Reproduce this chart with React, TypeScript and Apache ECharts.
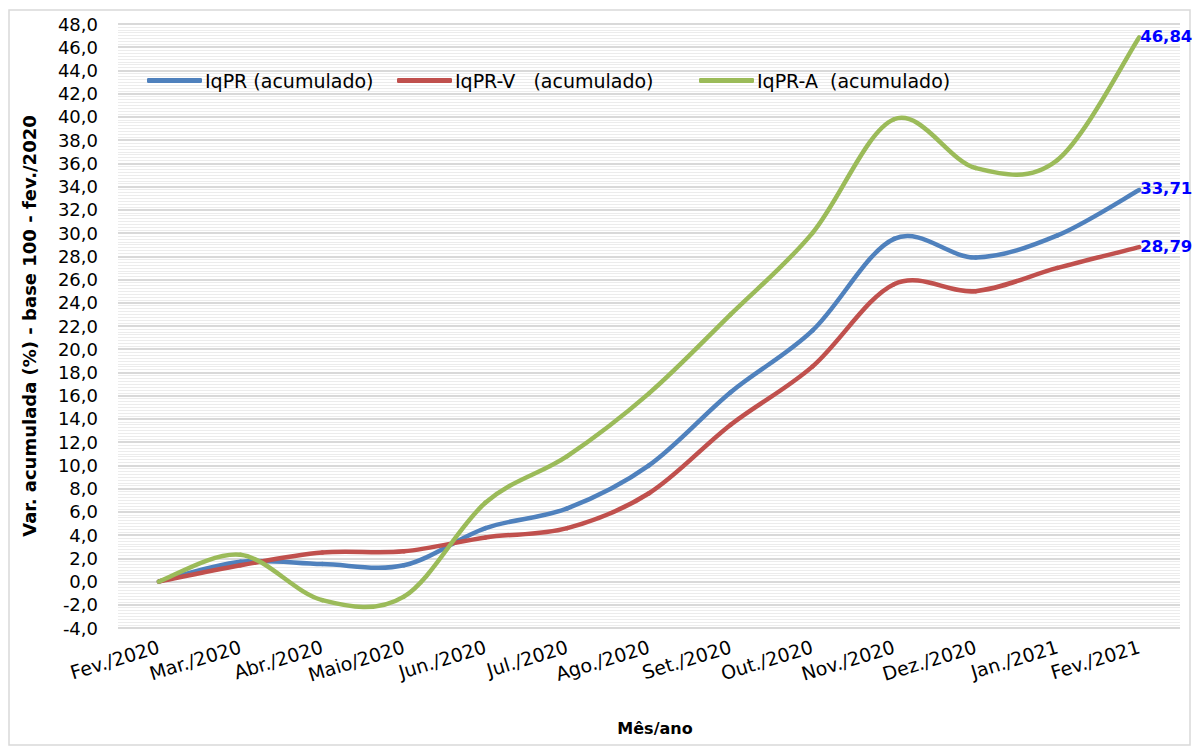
import React, { useEffect, useRef } from "react";
import * as echarts from "echarts";

const categories = [
  "Fev./2020", "Mar./2020", "Abr./2020", "Maio/2020", "Jun./2020", "Jul./2020",
  "Ago./2020", "Set./2020", "Out./2020", "Nov./2020", "Dez./2020", "Jan./2021", "Fev./2021",
];
const iqpr = [0, 1.7, 1.5, 1.4, 4.6, 6.3, 10.0, 16.3, 21.6, 29.5, 27.9, 29.8, 33.71];
const iqprV = [0, 1.4, 2.5, 2.6, 3.8, 4.6, 7.6, 13.5, 18.5, 25.6, 25.0, 27.0, 28.79];
const iqprA = [0, 2.3, -1.6, -1.3, 6.8, 10.8, 16.2, 23.0, 30.0, 39.8, 35.6, 36.3, 46.84];
const seriesNames = ["IqPR (acumulado)", "IqPR-V  (acumulado)", "IqPR-A  (acumulado)"];
const colors = ["#4f81bd", "#c0504d", "#9bbb59"];
const yTicks = { min: -4, max: 48, step: 2 };

const FONT = "DejaVu Sans";

// Excel-like smoothed line: each data item draws the Catmull-Rom segment to the next point
function makeRenderItem(data: number[], color: string) {
  return (params: any, api: any) => {
    const i = params.dataIndex;
    const n = data.length;
    const pt = (k: number) => {
      const kk = Math.max(0, Math.min(n - 1, k));
      return api.coord([kk, data[kk]]);
    };
    if (i === n - 1) {
      const p = pt(i);
      return {
        type: "text",
        x: p[0] + 1,
        y: p[1] - 1,
        z2: 10,
        style: {
          text: data[i].toFixed(2).replace(".", ","),
          fill: "#0000ff",
          font: `bold 16.5px "${FONT}"`,
          verticalAlign: "middle",
          align: "left",
        },
      };
    }
    const p0 = pt(i - 1);
    const p1 = pt(i);
    const p2 = pt(i + 1);
    const p3 = pt(i + 2);
    const t = 1 / 6;
    return {
      type: "bezierCurve",
      shape: {
        x1: p1[0],
        y1: p1[1],
        cpx1: p1[0] + (p2[0] - p0[0]) * t,
        cpy1: p1[1] + (p2[1] - p0[1]) * t,
        cpx2: p2[0] - (p3[0] - p1[0]) * t,
        cpy2: p2[1] - (p3[1] - p1[1]) * t,
        x2: p2[0],
        y2: p2[1],
      },
      style: { stroke: color, lineWidth: 4.5, lineCap: "round", fill: null },
    };
  };
}

export default function App() {
  const ref = useRef<HTMLDivElement>(null);
  useEffect(() => {
    const chart = echarts.init(ref.current!, null, { renderer: "svg" });
    const mk = (name: string, data: number[], color: string) => ({
      name,
      type: "custom",
      data: data.map((v, i) => [i, v]),
      encode: { x: 0, y: 1 },
      renderItem: makeRenderItem(data, color),
      itemStyle: { color },
      clip: false,
    });
    const legendLefts = [142, 392, 694];
    const gapSpaces = [2, 3, 2];
    const mkLegend = (k: number) => ({
      left: legendLefts[k],
      top: 66,
      itemWidth: 55,
      itemHeight: 5,
      icon: "roundRect",
      formatter: (name: string) => name.replace(/ {2}/g, "\u00a0".repeat(gapSpaces[k])),
      textStyle: { fontFamily: FONT, fontSize: 19, color: "#000", padding: [0, 0, 0, -2] },
      data: [seriesNames[k]],
    });
    chart.setOption({
      animation: false,
      backgroundColor: "#ffffff",
      color: colors,
      graphic: [
        {
          type: "rect",
          shape: { x: 9, y: 10, width: 1181, height: 735 },
          style: { fill: "none", stroke: "#d9d9d9", lineWidth: 1.5 },
          z: -10,
        },
      ],
      legend: [mkLegend(0), mkLegend(1), mkLegend(2)],
      grid: { left: 118, right: 15, top: 24, bottom: 119, containLabel: false },
      xAxis: {
        type: "category",
        data: categories,
        boundaryGap: true,
        axisLine: { show: false },
        axisTick: { show: false },
        axisLabel: {
          rotate: 17,
          fontFamily: FONT,
          fontSize: 19,
          color: "#000",
          margin: 18,
          interval: 0,
        },
        name: "Mês/ano",
        nameLocation: "middle",
        nameGap: 92,
        nameTextStyle: {
          fontFamily: FONT,
          fontSize: 16,
          fontWeight: "bold",
          color: "#000",
          padding: [0, 0, 0, 12],
        },
      },
      yAxis: {
        type: "value",
        min: yTicks.min,
        max: yTicks.max,
        interval: yTicks.step,
        axisLine: { show: false },
        axisTick: { show: false },
        axisLabel: {
          fontFamily: FONT,
          fontSize: 18,
          color: "#000",
          margin: 20,
          formatter: (v: number) => v.toFixed(1).replace(".", ","),
        },
        splitLine: { lineStyle: { color: "#d9d9d9", width: 2 } },
        minorTick: { show: false, splitNumber: 8 },
        minorSplitLine: { show: true, lineStyle: { color: "#ececec", width: 1 } },
        name: "Var. acumulada (%) - base 100 - fev./2020",
        nameLocation: "middle",
        nameGap: 80,
        nameTextStyle: { fontFamily: FONT, fontSize: 18, fontWeight: "bold", color: "#000" },
      },
      series: [
        mk(seriesNames[0], iqpr, colors[0]),
        mk(seriesNames[1], iqprV, colors[1]),
        mk(seriesNames[2], iqprA, colors[2]),
      ],
    });
    return () => chart.dispose();
  }, []);
  return (
    <div
      ref={ref}
      style={{ position: "fixed", left: 0, top: 0, width: 1195, height: 747 }}
    />
  );
}
